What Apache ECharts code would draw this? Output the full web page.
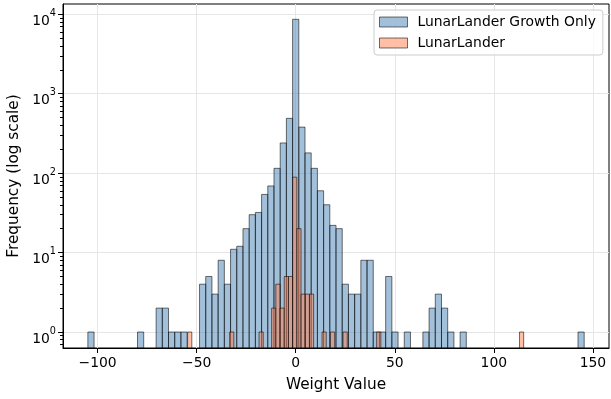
<!DOCTYPE html>
<html><head><meta charset="utf-8">
<script src="https://cdn.jsdelivr.net/npm/echarts@6/dist/echarts.min.js"></script>
<style>html,body{margin:0;padding:0;background:#fff}#c{width:611px;height:399px}</style>
</head><body><div id="c"></div>
<script>
const blueName = 'LunarLander Growth Only';
const orangeName = 'LunarLander';
const blueBinStart = -104.9;
const blueBinWidth = 3.131;
const blueCounts = [
  1,0,0,0,0,0,0,0,
  1,0,0,2,2,1,1,1,0,0,4,5,
  3,8,4,11,12,20,30,32,54,69,
  115,240,490,8650,380,180,115,60,40,22,
  20,4,3,3,8,8,1,1,5,1,
  0,1,0,0,1,2,3,2,1,0,
  1,0,0,0,0,0,0,0,0,0,
  0,0,0,0,0,0,0,0,0,1
];
const orangeBinStart = -54.56;
const orangeBinWidth = 2.12;
const orangeCounts = [
  1,0,0,0,0,0,0,0,0,0,
  1,0,0,0,0,0,0,1,0,0,
  2,4,2,5,5,89,20,3,3,3,
  0,0,1,0,1,0,0,1,0,0,
  0,0,0,0,0,1,0,0,0,0,
  0,0,0,0,0,0,0,0,0,0,
  0,0,0,0,0,0,0,0,0,0,
  0,0,0,0,0,0,0,0,0,1
];
const xTicks = [-100, -50, 0, 50, 100, 150];
const yTicks = [1, 10, 100, 1000, 10000];
const yMinorTicks = [0.7,0.8,0.9,2,3,4,5,6,7,8,9,20,30,40,50,60,70,80,90,
  200,300,400,500,600,700,800,900,2000,3000,4000,5000,6000,7000,8000,9000];
const X_MIN = -117.45, X_MAX = 158.1;
const Y_MIN = 0.629, Y_MAX = 13480;

const blueFill = 'rgba(70,130,180,0.5)';
const orangeFill = 'rgba(255,127,80,0.5)';
const edge = 'rgba(0,0,0,0.55)';
const FONT = 'DejaVu Sans';
const FS = 13.9;
const FS_NAME = 15.3;

function makeData(start, width, counts) {
  const out = [];
  counts.forEach((c, i) => { if (c > 0) out.push([start + i * width, start + (i + 1) * width, c]); });
  return out;
}
function renderer(fill) {
  return function (params, api) {
    const p0 = api.coord([api.value(0), api.value(2)]);
    const p1 = api.coord([api.value(1), Y_MIN]);
    return {
      type: 'rect',
      shape: { x: p0[0], y: p0[1], width: p1[0] - p0[0], height: p1[1] - p0[1] },
      style: { fill: fill, stroke: edge, lineWidth: 1 }
    };
  };
}
const chart = echarts.init(document.getElementById('c'), null, { renderer: 'canvas' });
chart.setOption({
  animation: false,
  backgroundColor: '#fff',
  textStyle: { fontFamily: FONT },
  grid: { left: 63, top: 4, width: 546, height: 344, outerBoundsMode: 'none', containLabel: false,
    show: true, borderColor: '#000', borderWidth: 1, backgroundColor: 'transparent' },
  legend: {
    orient: 'vertical', left: 374, top: 10,
    padding: [5, 7, 5, 5], itemGap: 7, itemWidth: 28, itemHeight: 10,
    borderColor: '#cccccc', borderWidth: 1, borderRadius: 3, backgroundColor: 'rgba(255,255,255,0.8)',
    icon: 'rect',
    textStyle: { fontFamily: FONT, fontSize: FS, color: '#000', padding: [0, 0, 0, 5] },
    data: [
      { name: blueName, itemStyle: { color: blueFill, borderColor: edge, borderWidth: 1 } },
      { name: orangeName, itemStyle: { color: orangeFill, borderColor: edge, borderWidth: 1 } }
    ]
  },
  xAxis: {
    type: 'value', min: X_MIN, max: X_MAX,
    name: 'Weight Value', nameLocation: 'middle', nameGap: 30,
    nameTextStyle: { fontFamily: FONT, fontSize: FS_NAME, color: '#000' },
    axisLine: { show: true, onZero: false, lineStyle: { color: '#000', width: 1 } },
    axisTick: { show: true, length: 5, customValues: xTicks, lineStyle: { color: '#000', width: 1 } },
    axisLabel: { customValues: xTicks, margin: 8, fontFamily: FONT, fontSize: FS, color: '#000',
      formatter: v => (v < 0 ? '\u2212' + Math.abs(v) : String(v)) },
    splitLine: { show: true, lineStyle: { color: '#e6e6e6', width: 1 } }
  },
  yAxis: [{
    type: 'log', logBase: 10, min: Y_MIN, max: Y_MAX,
    name: 'Frequency (log scale)', nameLocation: 'middle', nameGap: 40, nameRotate: 90,
    nameTextStyle: { fontFamily: FONT, fontSize: FS_NAME, color: '#000' },
    axisLine: { show: true, onZero: false, lineStyle: { color: '#000', width: 1 } },
    axisTick: { show: true, length: 5, customValues: yTicks, lineStyle: { color: '#000', width: 1 } },
    axisLabel: { customValues: yTicks, margin: 7, color: '#000', padding: [8, 0, 0, 0],
      formatter: v => '{b|10}{s|' + Math.round(Math.log10(v)) + '}',
      rich: {
        b: { fontFamily: FONT, fontSize: FS, color: '#000', lineHeight: 20, verticalAlign: 'bottom' },
        s: { fontFamily: FONT, fontSize: 9.7, color: '#000', lineHeight: 10, verticalAlign: 'top' }
      } },
    splitLine: { show: true, lineStyle: { color: '#e6e6e6', width: 1 } }
  }, {
    type: 'log', logBase: 10, min: Y_MIN, max: Y_MAX, position: 'left',
    axisLine: { show: false, onZero: false },
    axisTick: { show: true, length: 3, customValues: yMinorTicks, lineStyle: { color: '#000', width: 1 } },
    axisLabel: { show: false },
    splitLine: { show: false }
  }],
  series: [
    { name: blueName, type: 'custom', renderItem: renderer(blueFill), encode: { x: [0, 1], y: 2 },
      itemStyle: { color: blueFill, borderColor: edge }, data: makeData(blueBinStart, blueBinWidth, blueCounts), z: 2 },
    { name: orangeName, type: 'custom', renderItem: renderer(orangeFill), encode: { x: [0, 1], y: 2 },
      itemStyle: { color: orangeFill, borderColor: edge }, data: makeData(orangeBinStart, orangeBinWidth, orangeCounts), z: 3 }
  ]
});
</script></body></html>
